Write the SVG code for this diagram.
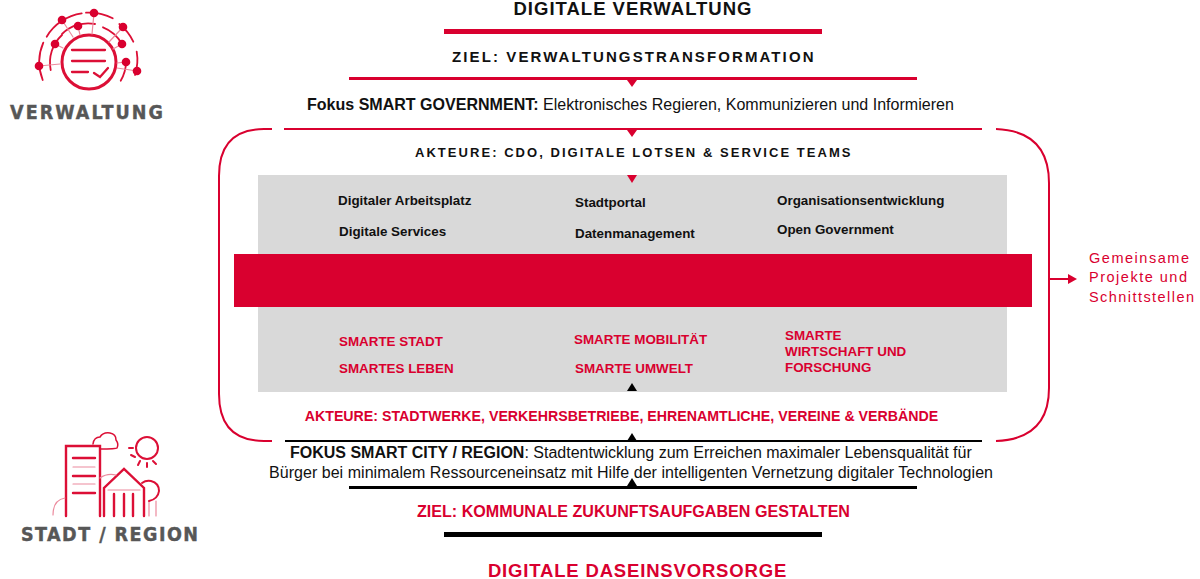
<svg xmlns="http://www.w3.org/2000/svg" width="1200" height="579" viewBox="0 0 1200 579">
<style>
text{font-family:"Liberation Sans",Arial,sans-serif;font-weight:700;fill:#111}
.r{fill:#d9002f}
text.r{fill:#d9002f}
text.n,tspan.n{font-weight:400}
.s{font-size:13.4px}
.lr{stroke:#d9002f;fill:none}
.lk{stroke:#000;fill:none}
.ic{stroke:#dc0f36;fill:none;stroke-width:2;stroke-linecap:round}
.ic2{stroke:#ec8a9d;fill:none;stroke-width:1.2;stroke-linecap:round}
text.lb{font-family:"DejaVu Sans",sans-serif;font-stretch:condensed;font-size:19.500px;fill:#575757;stroke:#575757;stroke-width:.4}
</style>
<rect width="1200" height="579" fill="#fff"/>
<g id="panels">
<rect x="258" y="175" width="749" height="80" fill="#d9d9d9"/>
<rect x="258" y="306" width="749" height="86" fill="#d9d9d9"/>
<rect class="r" x="234" y="254" width="798" height="53"/>
</g>
<g id="connectors">
<rect class="r" x="444" y="29" width="378" height="5"/>
<rect class="r" x="349" y="77" width="568" height="3"/>
<path class="r" d="M627 80h10l-5 7z"/>
<path class="lr" stroke-width="2" d="M284 129H982"/>
<path class="r" d="M627 130h10l-5 7zM627 175h10l-5 8z"/>
<path class="lr" stroke-width="2" d="M272 129H264Q219 129 219 176V394Q219 441 264 441H272M996 129Q1049 131 1049 183V388Q1049 439 996 441"/>
<path class="lk" stroke-width="2" d="M285 441H982"/>
<rect x="349" y="486" width="568" height="3" fill="#000"/>
<rect x="444" y="532" width="378" height="5" fill="#000"/>
<path d="M627 391h10l-5-8zM627 441h10l-5-8zM627 486h10l-5-8z" fill="#000"/>
<path class="lr" stroke-width="2" d="M1049 279H1070"/>
<path class="r" d="M1068 274l9 5-9 5z"/>
</g>
<g id="verwaltung">
<circle class="ic" cx="89" cy="62" r="27" style="stroke-width:3"/>
<path class="ic" style="stroke-width:2.300" d="M72 50h33M72 61h33M72 72h16M94 73l6 4 8-9"/>
<path class="ic" style="stroke-width:1.800" d="M42.700 80A49 49 0 0 1 43.300 42.700M46.700 36.700A49 49 0 0 1 81.700 13.300M86 12.700A49 49 0 0 1 112.700 18.300M119.300 24A49 49 0 0 1 133.300 41.700M136.700 51.700A49 49 0 0 1 135 75M50.700 70A37.500 37.500 0 0 1 62 35M62 34A37.500 37.500 0 0 1 95 24M103 27.300A37.500 37.500 0 0 1 122 44M126 62A37.500 37.500 0 0 1 120.700 80.700"/>
<path class="ic2" d="M39 66l21-2M55 44l8 4M62 20l11 17M78 26l2 9M94 13l-2 21M123 27l-14 15M122 44l-9 5M126 62l-9 1M137 71l-20-3"/>
<g class="r"><circle cx="39" cy="66" r="4.300"/><circle cx="55" cy="44" r="4.300"/><circle cx="62" cy="20" r="4.300"/><circle cx="78" cy="26" r="4.300"/><circle cx="94" cy="13" r="4.300"/><circle cx="123" cy="27" r="4.300"/><circle cx="122" cy="44" r="4.300"/><circle cx="126" cy="62" r="4.300"/><circle cx="137" cy="71" r="4.300"/></g>
<text class="lb" x="10" y="119" textLength="153">VERWALTUNG</text>
</g>
<g id="stadt-region">
<path class="ic" style="stroke-width:2.400" d="M66 516V446H100V516M73 458H95M73 476H95M73 493H95M104 516V488L124 469 144 488V516M114 494v22M124 494v22M133 494v22"/>
<path class="ic2" d="M73 467H95M73 484H95M108 490h32M149 501v15M156 501v15M53 515Q53 500 65 498M100 478Q107 473 116 475"/>
<path class="ic" style="stroke-width:1.500" d="M93 444Q94 437 100 437Q103 432 110 433Q116 434 116 440Q119 444 117 448Q116 449 100 449"/>
<circle class="ic" cx="147" cy="448" r="11"/>
<path class="ic" d="M129 448h4M131 455l4 2M138 465l2-4M147 467v-4M156 464l-3-3"/>
<path class="ic" d="M142 483Q146 480 151 481 159 483 159 491 158 499 149 501"/>
<text class="lb" x="21" y="541" textLength="177">STADT / REGION</text>
</g>
<g id="titel-oben">
<text x="632.500" y="15" text-anchor="middle" font-size="18.500" textLength="238">DIGITALE VERWALTUNG</text>
<text x="633.500" y="62" text-anchor="middle" font-size="15" letter-spacing="1.500" textLength="363">ZIEL: VERWALTUNGSTRANSFORMATION</text>
<text x="307" y="110" font-size="16.050">Fokus SMART GOVERNMENT: <tspan class="n">Elektronisches Regieren, Kommunizieren und Informieren</tspan></text>
<text x="633.500" y="157" text-anchor="middle" font-size="13" letter-spacing="1.500" textLength="437">AKTEURE: CDO, DIGITALE LOTSEN &amp; SERVICE TEAMS</text>
</g>
<g id="verwaltung-themen">
<text class="s" x="338" y="205">Digitaler Arbeitsplatz</text>
<text class="s" x="339" y="236">Digitale Services</text>
<text class="s" x="575" y="207">Stadtportal</text>
<text class="s" x="575" y="238">Datenmanagement</text>
<text class="s" x="777" y="205">Organisationsentwicklung</text>
<text class="s" x="777" y="234">Open Government</text>
</g>
<g id="stadt-themen">
<text class="r s" x="339" y="346">SMARTE STADT</text>
<text class="r s" x="339" y="373">SMARTES LEBEN</text>
<text class="r s" x="574" y="344">SMARTE MOBILITÄT</text>
<text class="r s" x="575" y="373">SMARTE UMWELT</text>
<text class="r s" x="785" y="340">SMARTE</text>
<text class="r s" x="785" y="356">WIRTSCHAFT UND</text>
<text class="r s" x="785" y="372">FORSCHUNG</text>
</g>
<g id="schnittstellen">
<text class="r n" x="1089" y="263" font-size="14.500" textLength="100">Gemeinsame</text>
<text class="r n" x="1089" y="282" font-size="14.500" textLength="98">Projekte und</text>
<text class="r n" x="1089" y="302" font-size="14.500" textLength="105">Schnittstellen</text>
</g>
<g id="titel-unten">
<text class="r" x="621.500" y="421" text-anchor="middle" font-size="14.200">AKTEURE: STADTWERKE, VERKEHRSBETRIEBE, EHRENAMTLICHE, VEREINE &amp; VERBÄNDE</text>
<text x="290" y="458" font-size="16">FOKUS SMART CITY / REGION<tspan class="n">: Stadtentwicklung zum Erreichen maximaler Lebensqualität für</tspan></text>
<text class="n" x="269" y="478" font-size="16" textLength="724">Bürger bei minimalem Ressourceneinsatz mit Hilfe der intelligenten Vernetzung digitaler Technologien</text>
<text class="r" x="633.500" y="517" text-anchor="middle" font-size="16.100">ZIEL: KOMMUNALE ZUKUNFTSAUFGABEN GESTALTEN</text>
<text class="r" x="637.500" y="577" text-anchor="middle" font-size="18.500" letter-spacing=".83">DIGITALE DASEINSVORSORGE</text>
</g>
</svg>
